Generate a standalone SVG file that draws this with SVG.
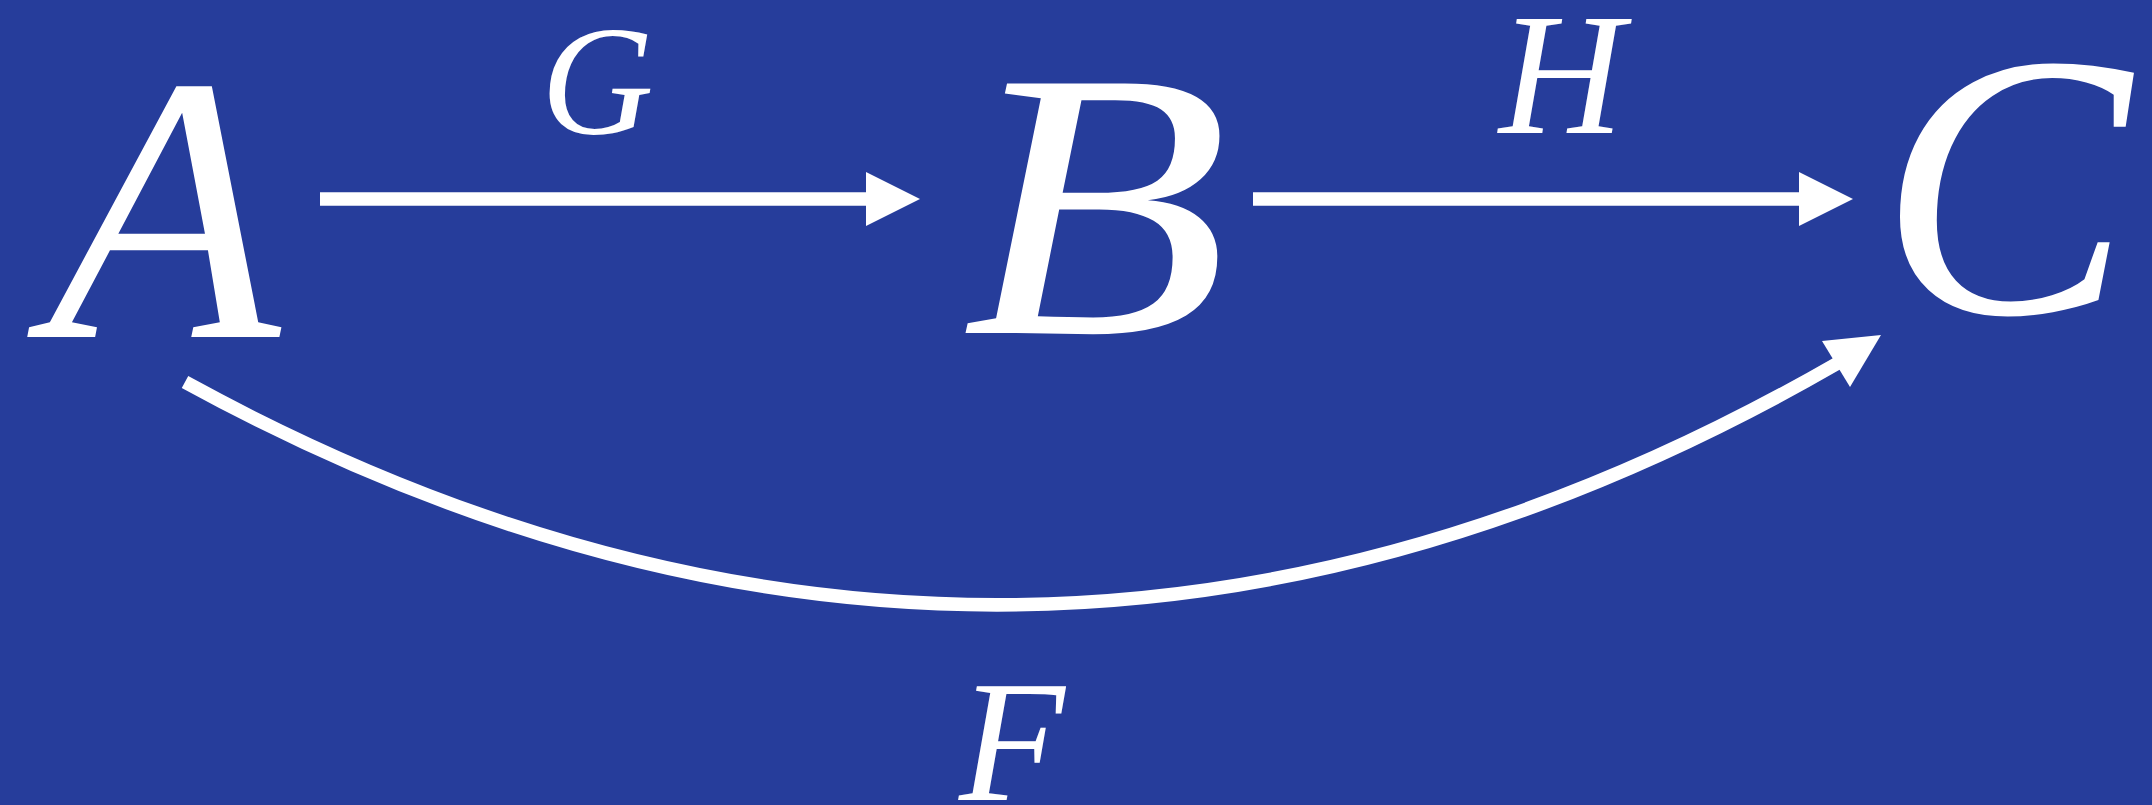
<svg xmlns="http://www.w3.org/2000/svg" width="2152" height="805" viewBox="0 0 2152 805">
<style>
.lbl{font-family:"Liberation Serif","Times New Roman",serif;font-style:italic;fill:#ffffff}
.edge{stroke:#ffffff;stroke-width:13.5;fill:none}
.head{fill:#ffffff}
</style>
<rect x="0" y="0" width="2152" height="805" fill="#263d9b"/>
<g id="connectors">
<g id="edge-G">
<line class="edge" x1="320" y1="199" x2="868" y2="199"/>
<polygon class="head" points="866,172 920,199 866,226"/>
<text class="lbl" x="541" y="134" font-size="156">G</text>
</g>
<g id="edge-H">
<line class="edge" x1="1253" y1="199" x2="1801" y2="199"/>
<polygon class="head" points="1799,172 1853,199 1799,226"/>
<text class="lbl" x="1499" y="133" font-size="173">H</text>
</g>
<g id="edge-F">
<path class="edge" d="M185,382 Q1016,837 1838,363"/>
<polygon class="head" points="1881,335 1822,341 1850,387"/>
<text class="lbl" x="959" y="800" font-size="173">F</text>
</g>
</g>
<g id="node-A"><text class="lbl" x="48" y="337" font-size="380">A</text></g>
<g id="node-B"><text class="lbl" x="961" y="333" font-size="381" transform="matrix(1.15,0,0,1,-143.7,0)">B</text></g>
<g id="node-C"><text class="lbl" x="1879" y="313" font-size="377">C</text></g>
</svg>
